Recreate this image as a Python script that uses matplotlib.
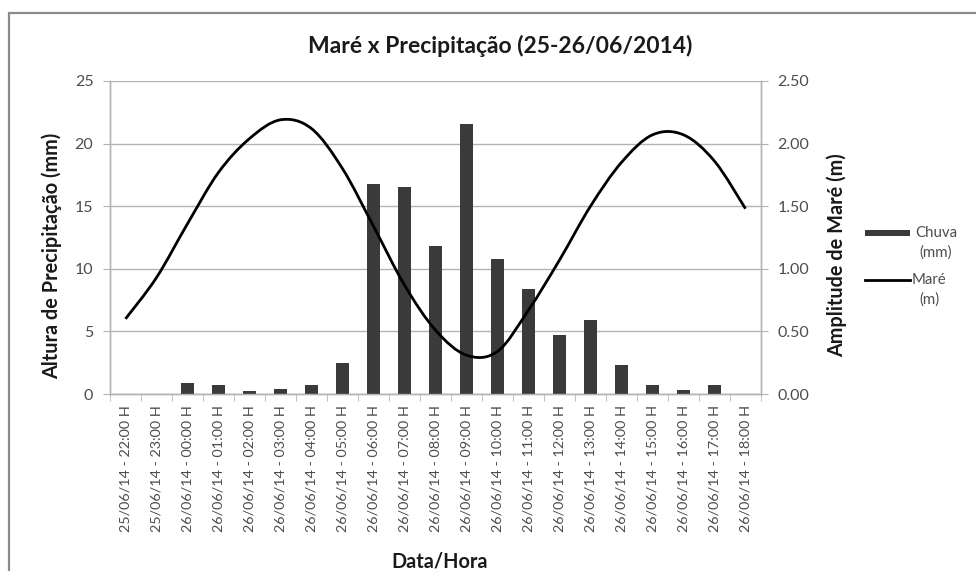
import matplotlib
matplotlib.use("Agg")
import matplotlib.pyplot as plt
from matplotlib.path import Path
from matplotlib.patches import PathPatch, Rectangle
from matplotlib.lines import Line2D
import numpy as np

# ---- data ----
categories = ["25/06/14 - 22:00 H", "25/06/14 - 23:00 H", "26/06/14 - 00:00 H",
              "26/06/14 - 01:00 H", "26/06/14 - 02:00 H", "26/06/14 - 03:00 H",
              "26/06/14 - 04:00 H", "26/06/14 - 05:00 H", "26/06/14 - 06:00 H",
              "26/06/14 - 07:00 H", "26/06/14 - 08:00 H", "26/06/14 - 09:00 H",
              "26/06/14 - 10:00 H", "26/06/14 - 11:00 H", "26/06/14 - 12:00 H",
              "26/06/14 - 13:00 H", "26/06/14 - 14:00 H", "26/06/14 - 15:00 H",
              "26/06/14 - 16:00 H", "26/06/14 - 17:00 H", "26/06/14 - 18:00 H"]
chuva_mm = [0, 0, 0.85, 0.72, 0.25, 0.4, 0.72, 2.45, 16.8, 16.55, 11.8, 21.6,
            10.8, 8.35, 4.7, 5.9, 2.3, 0.7, 0.28, 0.7, 0]
mare_m = [0.60, 0.93, 1.36, 1.77, 2.04, 2.19, 2.12, 1.80, 1.34, 0.87, 0.51, 0.31,
          0.34, 0.67, 1.07, 1.50, 1.85, 2.07, 2.07, 1.86, 1.48]
left_ticks = [0, 5, 10, 15, 20, 25]
right_ticks = [0.0, 0.5, 1.0, 1.5, 2.0, 2.5]
legend_labels = [("Chuva", "(mm)"), ("Maré", "(m)")]

FONT = ["Lato", "DejaVu Sans"]
plt.rcParams["font.family"] = FONT
TICK_C = "#4d4d4d"
TEXT_C = "#1a1a1a"
GRID_C = "#b4b4b4"
BAR_C = "#3a3a3a"

W, H = 976, 571
fig = plt.figure(figsize=(W / 100, H / 100), dpi=100)


def fx(px):
    return px / W


def fy(py):
    return 1 - py / H


# outer chart border
fig.patches.append(Rectangle((fx(9), -0.01), 1.0, (H - 13) / H + 0.01,
                             transform=fig.transFigure, fill=False,
                             edgecolor="#8c8c8c", linewidth=1.6))

ax = fig.add_axes([fx(110), fy(394), (761 - 110) / W, (394 - 81) / H])
ax2 = ax.twinx()

x = np.arange(len(categories))
ax.bar(x, chuva_mm, width=0.4, color=BAR_C, zorder=3)
ax.set_xlim(-0.5, len(categories) - 0.5)
ax.set_ylim(0, 25)
ax.set_yticks(left_ticks)
ax.set_yticklabels([str(v) for v in left_ticks])
ax.yaxis.grid(True, color=GRID_C, linewidth=1.0, zorder=0)
ax.set_axisbelow(True)

# x axis ticks
ax.set_xticks(x)
ax.set_xticklabels(categories, rotation=90, fontsize=10.4, color=TICK_C)
ax.set_xticks(np.arange(-0.5, len(categories)), minor=True)
ax.tick_params(axis="x", which="major", length=0, pad=8)
ax.tick_params(axis="x", which="minor", length=5, color=GRID_C, direction="out")
ax.tick_params(axis="y", length=5, color=GRID_C, labelsize=11.5, labelcolor=TICK_C, pad=7)

ax.spines["top"].set_visible(False)
ax2.spines["top"].set_visible(False)
for a in (ax, ax2):
    for s in ["left", "right", "bottom"]:
        a.spines[s].set_color(GRID_C)
        a.spines[s].set_linewidth(1.0)

# smoothed line (Excel-style smoothing of the hourly points)
xs = x.astype(float)
ys = np.array(mare_m, dtype=float)
verts = [(xs[0], ys[0])]
codes = [Path.MOVETO]
n = len(xs)
for i in range(n - 1):
    p0 = np.array([xs[max(i - 1, 0)], ys[max(i - 1, 0)]])
    p1 = np.array([xs[i], ys[i]])
    p2 = np.array([xs[i + 1], ys[i + 1]])
    p3 = np.array([xs[min(i + 2, n - 1)], ys[min(i + 2, n - 1)]])
    c1 = p1 + (p2 - p0) / 6.0
    c2 = p2 - (p3 - p1) / 6.0
    verts += [tuple(c1), tuple(c2), tuple(p2)]
    codes += [Path.CURVE4] * 3
ax2.add_patch(PathPatch(Path(verts, codes), facecolor="none",
                        edgecolor="black", linewidth=2.0, zorder=4))
ax2.set_ylim(0, 2.5)
ax2.set_yticks(right_ticks)
ax2.set_yticklabels([f"{v:.2f}" for v in right_ticks])
ax2.tick_params(axis="y", length=5, color=GRID_C, labelsize=11.5, labelcolor=TICK_C, pad=7)

# labels
fig.text(fx(500), fy(46), "Maré x Precipitação (25-26/06/2014)", ha="center",
         va="center", fontsize=16.5, fontweight="bold", color=TEXT_C)
fig.text(fx(52), fy(256), "Altura de Precipitação (mm)", rotation=90,
         ha="center", va="center", fontsize=14.3, fontweight="bold", color=TEXT_C)
fig.text(fx(837), fy(255), "Amplitude de Maré (m)", rotation=90,
         ha="center", va="center", fontsize=14.3, fontweight="bold", color=TEXT_C)
fig.text(fx(440), fy(561), "Data/Hora", ha="center", va="center",
         fontsize=14.3, fontweight="bold", color=TEXT_C)

# legend (drawn by hand, handle aligned with the first text line as in Excel)
fig.patches.append(Rectangle((fx(865), fy(236)), 45 / W, 6 / H,
                             transform=fig.transFigure, facecolor=BAR_C,
                             edgecolor="none"))
fig.lines.append(Line2D([fx(865), fx(910)], [fy(280), fy(280)],
                        transform=fig.transFigure, color="black", linewidth=2.0))
for (l1, l2), yc, cx in zip(legend_labels, [233, 280], [936, 929]):
    fig.text(fx(cx), fy(yc), l1, ha="center", va="center", fontsize=10.8,
             color=TICK_C)
    fig.text(fx(cx), fy(yc + 20), l2, ha="center", va="center", fontsize=10.8,
             color=TICK_C)

fig.savefig("out.png", dpi=100)
